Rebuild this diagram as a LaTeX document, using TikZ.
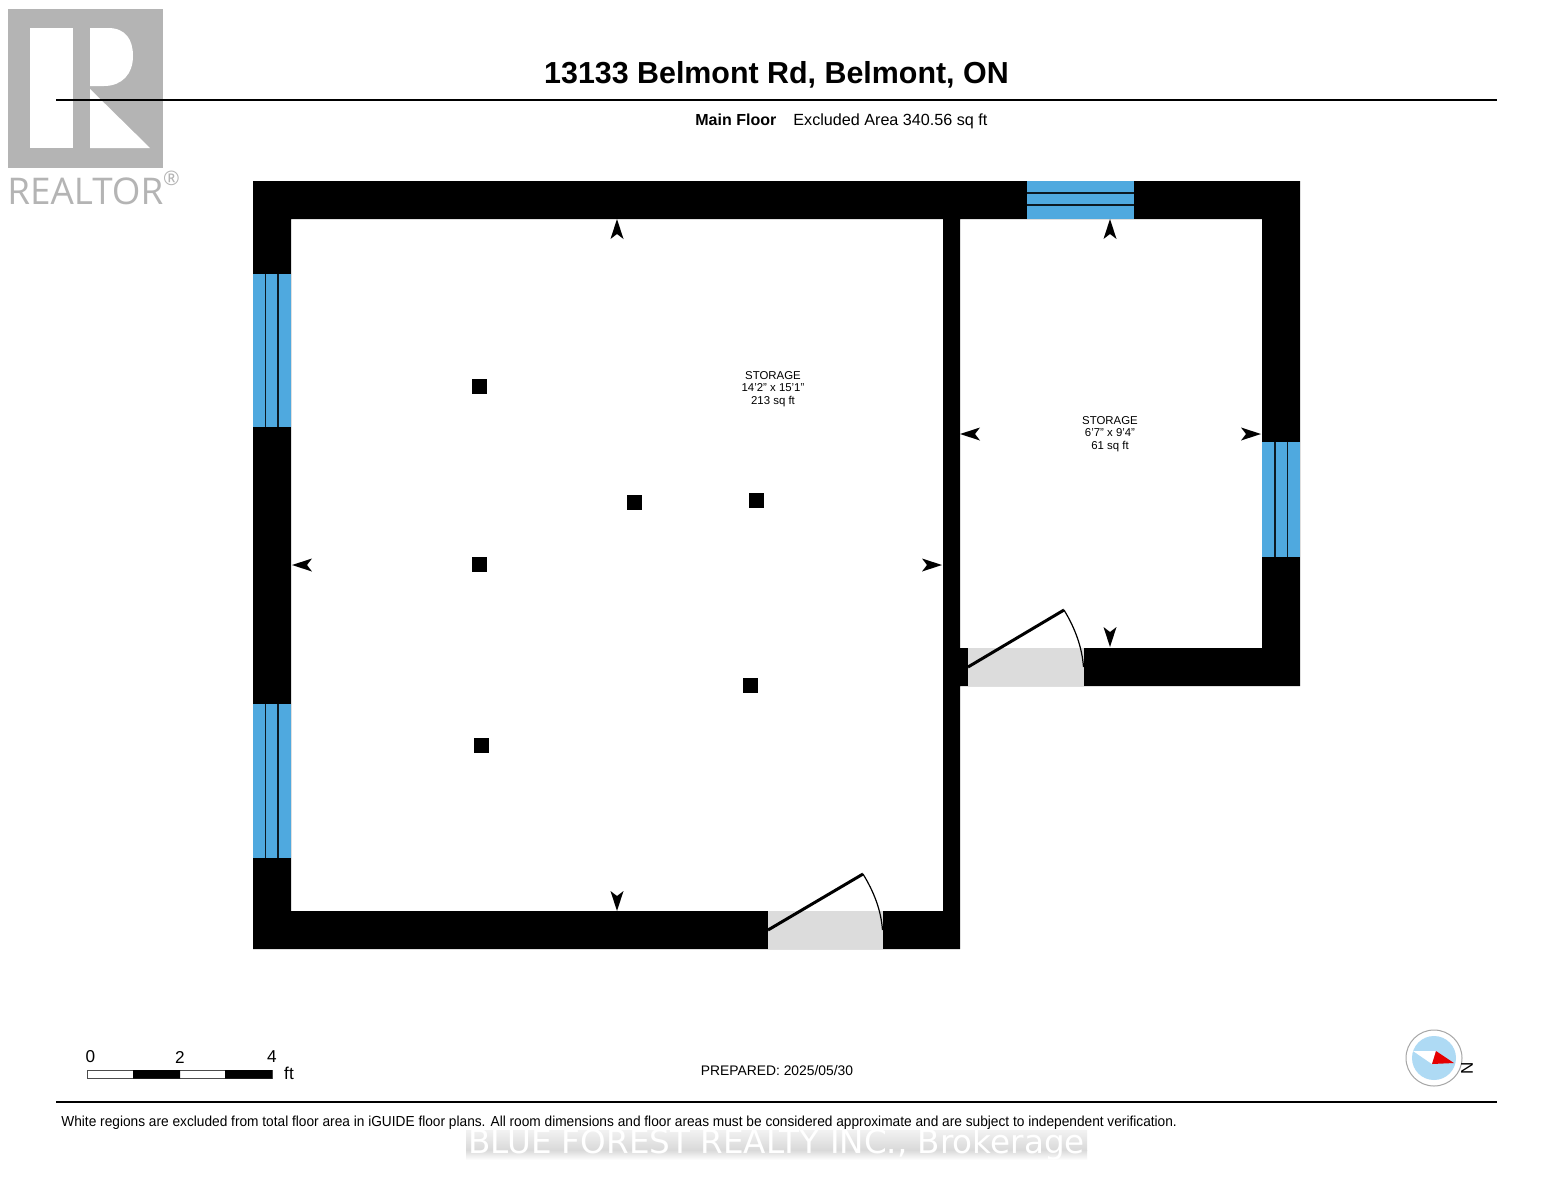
\documentclass[tikz,border=0pt]{standalone}
\usepackage{fontspec}
\usepackage{graphicx}
\setmainfont{Liberation Sans}
\newfontfamily\wmfont{DejaVu Sans}
\newfontfamily\logofont{Open Sans}
\definecolor{win}{HTML}{4FA9DF}
\definecolor{logogray}{HTML}{B4B4B4}
\definecolor{doorgray}{HTML}{DCDCDC}
\definecolor{compblue}{HTML}{AEDAF4}
\newcommand{\fsz}[1]{\fontsize{#1}{#1}\selectfont}
\newcommand{\roomarrow}[3]{\fill[black,shift={(#1,#2)},rotate=#3] (0,-10) -- (6.5,10) -- (0,5) -- (-6.5,10) -- cycle;}
\tikzset{
  x=0.5pt,y=-0.5pt,
  wall/.style={fill=black,even odd rule},
  winpane/.style={fill=win},
  mullion/.style={draw=black!85!win,line width=0.75pt},
  doorbase/.style={fill=doorgray},
  leaf/.style={draw=black,line width=1.5pt},
  swing/.style={draw=black,line width=0.6pt},
  column/.style={fill=black,minimum size=7.5pt,inner sep=0pt,outer sep=0pt},
  rule/.style={draw=black,line width=1.4pt},
  room/.style={align=center,font=\fontsize{5.7}{6.25}\selectfont,inner sep=0pt},
  lbl/.style={inner sep=0pt,font=\fsz{7.4}},
}
\begin{document}
\begin{tikzpicture}
\useasboundingbox (0,0) rectangle (1553,1200);
\fill[white] (0,0) rectangle (1553,1200);
% realtor logo
\fill[logogray] (8,9) rectangle (163,168);
\fill[white] (30,28) rectangle (73,148);
\fill[white] (90,28) -- (108,28) .. controls (126,28) and (133,40) .. (133,56) .. controls (133,74) and (122,86) .. (104,86) -- (90,86) -- cycle;
\fill[white] (90,89) -- (150,148) -- (90,148) -- cycle;
\node[anchor=west,inner sep=0pt,text=logogray] (realtor) at (7,191) {\logofont\fsz{18.4}REALTOR};
\node[inner sep=0pt,text=logogray] (regmark) at (171.5,178.5) {\logofont\fsz{10}®};
% header
\draw[rule,line width=1pt] (56,100) -- (180,100);
\draw[rule] (180,100) -- (1497,100);
\node[inner sep=0pt,font=\bfseries\fsz{15.2}] (title) at (776.5,75) {13133 Belmont Rd, Belmont, ON};
\node[anchor=west,lbl,font=\bfseries\fsz{8}] (floor) at (695,120) {Main Floor};
\node[anchor=west,lbl,font=\fsz{8.08}] (area) at (793,121) {Excluded Area 340.56 sq ft};
% walls
\fill[wall] (253,181) -- (1300,181) -- (1300,686) -- (960,686) -- (960,949) -- (253,949) -- cycle
  (291,219) -- (943,219) -- (943,911) -- (291,911) -- cycle
  (960,219) -- (1262,219) -- (1262,648) -- (960,648) -- cycle;
% windows
\fill[winpane] (253,274) rectangle (291,427);
\draw[mullion] (265.5,274) -- (265.5,427) (278,274) -- (278,427);
\fill[winpane] (253,704) rectangle (291,858);
\draw[mullion] (265.5,704) -- (265.5,858) (278,704) -- (278,858);
\fill[winpane] (1262,442) rectangle (1300,557);
\draw[mullion] (1275,442) -- (1275,557) (1287.5,442) -- (1287.5,557);
\fill[winpane] (1027,181) rectangle (1134,219);
\draw[mullion] (1027,193) -- (1134,193) (1027,205) -- (1134,205);
% doors
\fill[doorbase] (768,911) rectangle (883,949);
\draw[leaf] (768,930) -- (863,874);
\draw[swing] (863,874) .. controls (874,892) and (881,910) .. (882.5,930);
\fill[doorbase] (968,648) rectangle (1084,686);
\draw[leaf] (968,667) -- (1064,610);
\draw[swing] (1064,610) .. controls (1075,628) and (1082,647) .. (1083.5,667);
% room arrows
\roomarrow{617}{229}{0}
\roomarrow{617}{901}{180}
\roomarrow{302}{565}{90}
\roomarrow{932}{565}{-90}
\roomarrow{1110}{229}{0}
\roomarrow{1110}{637}{180}
\roomarrow{970}{434}{90}
\roomarrow{1251}{434}{-90}
% columns
\node[column] (c1) at (479,386) {};
\node[column] (c2) at (479,564) {};
\node[column] (c3) at (481,745) {};
\node[column] (c4) at (634,502) {};
\node[column] (c5) at (756.5,500.5) {};
\node[column] (c6) at (750.5,685.5) {};
% rooms
\node[room] (r1) at (773,389) {STORAGE\\14'2" x 15'1"\\213 sq ft};
\node[room] (r2) at (1110,434) {STORAGE\\6'7" x 9'4"\\61 sq ft};
% scale bar
\node[lbl,font=\fsz{8.6}] (s0) at (90.5,1057) {0};
\node[lbl,font=\fsz{8.6}] (s2) at (180,1057) {2};
\node[lbl,font=\fsz{8.6}] (s4) at (272,1057) {4};
\node[lbl,font=\fsz{8.6}] (sft) at (289,1073.5) {ft};
\draw[black!70,fill=white,line width=0.4pt] (87.5,1070.5) rectangle (272,1078);
\fill[black] (133,1070) rectangle (180,1078.5) (225,1070) rectangle (272,1078.5);
% prepared
\node[lbl,font=\fsz{6.93}] (prep) at (777,1071) {PREPARED: 2025/05/30};
% compass
\draw[draw=black!35,fill=white,line width=0.5pt] (1434,1058) circle (28);
\fill[compblue] (1434,1058) circle (22);
\fill[white] (1413,1051) -- (1436,1051) -- (1432,1064) -- cycle;
\fill[red!90!black] (1436,1051) -- (1454,1063) -- (1432,1064) -- cycle;
\node[inner sep=0pt,rotate=90,font=\fsz{8.5}] (north) at (1467,1068) {N};
% footer
\draw[rule] (56,1102) -- (1497,1102);
% watermark
\shade[top color=black!5,bottom color=black!15] (466,1130) rectangle (1087,1150);
\shade[top color=black!15,bottom color=white] (466,1150) rectangle (1087,1160);
\node[inner sep=0pt,text=white] (wm) at (776.5,1144) {\wmfont\fsz{16.3}BLUE FOREST REALTY INC., Brokerage};
\node[anchor=west,lbl] (note) at (61,1122.5) {\scalebox{0.945}[1]{\fsz{7.25}White regions are excluded from total floor area in iGUIDE floor plans. All room dimensions and floor areas must be considered approximate and are subject to independent verification.}};
\end{tikzpicture}
\end{document}
